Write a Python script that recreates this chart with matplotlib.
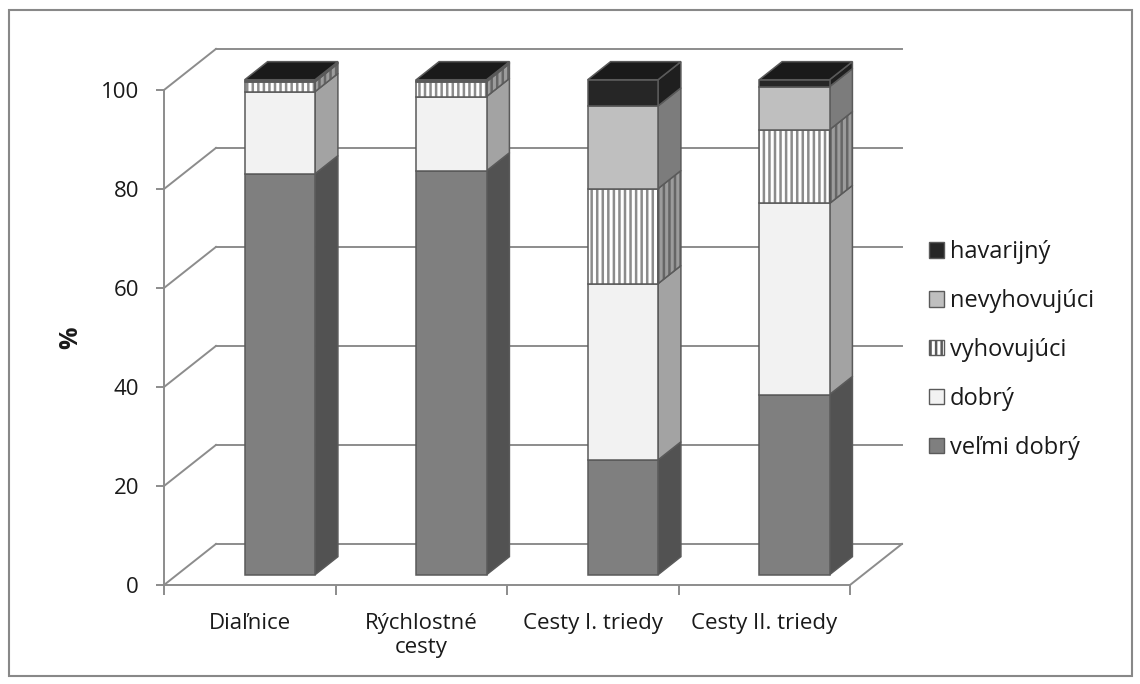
import matplotlib
matplotlib.use('Agg')
import matplotlib.pyplot as plt
from matplotlib.patches import Polygon, Patch, Rectangle

plt.rcParams['font.family'] = ['Open Sans', 'DejaVu Sans']
plt.rcParams['hatch.linewidth'] = 1.8

categories = ['Diaľnice', 'Rýchlostné\ncesty', 'Cesty I. triedy', 'Cesty II. triedy']
series_names = ['veľmi dobrý', 'dobrý', 'vyhovujúci', 'nevyhovujúci', 'havarijný']
velmi_dobry = [81.0, 81.6, 23.2, 36.4]
dobry = [16.6, 15.0, 35.6, 38.6]
vyhovujuci = [2.0, 3.0, 19.2, 14.9]
nevyhovujuci = [0.2, 0.2, 16.7, 8.7]
havarijny = [0.2, 0.2, 5.3, 1.4]
y_ticks = [0, 20, 40, 60, 80, 100]

series = [velmi_dobry, dobry, vyhovujuci, nevyhovujuci, havarijny]

# shading for the front, side and top faces of each segment
front_colors = ['#7f7f7f', '#f2f2f2', '#ffffff', '#bfbfbf', '#262626']
side_colors = ['#525252', '#a3a3a3', '#9c9c9c', '#7c7c7c', '#1f1f1f']
top_colors = ['#6a6a6a', '#d9d9d9', '#d0d0d0', '#a8a8a8', '#1a1a1a']
hatches = [None, None, '|||', None, None]
front_hatch_color = '#8c8c8c'
side_hatch_color = '#666666'
edge_color = '#5a5a5a'
grid_color = '#8c8c8c'
text_color = '#1a1a1a'

# oblique depth of the plot box (data units) and of the bars inside it
DX, DY = 0.303, 8.3
D0, D1 = 0.25, 0.69
BAR_W = 0.41
BAR_SHIFT = 0.10


def add_face(ax, pts, face, hatch=None, hatch_color=None, z=3):
    if hatch:
        ax.add_patch(Polygon(pts, closed=True, facecolor=face, edgecolor=hatch_color,
                             hatch=hatch, lw=0, zorder=z, clip_on=False))
        face = 'none'
    ax.add_patch(Polygon(pts, closed=True, facecolor=face, edgecolor=edge_color,
                         lw=1.1, zorder=z + 0.1, clip_on=False, joinstyle='miter'))


fig = plt.figure(figsize=(11.4, 6.84), dpi=100)
ax = fig.add_axes([164 / 1140, 99 / 684, 686 / 1140, 495 / 684])
ax.set_xlim(0, 4)
ax.set_ylim(0, 100)
ax.patch.set_visible(False)

# back wall, left wall and floor
for v in y_ticks:
    ax.plot([DX, 4 + DX], [v + DY, v + DY], color=grid_color, lw=1.4, zorder=1, clip_on=False)
    ax.plot([0, DX], [v, v + DY], color=grid_color, lw=1.4, zorder=1, clip_on=False)
ax.plot([4, 4 + DX], [0, DY], color=grid_color, lw=1.4, zorder=1, clip_on=False)

# stacked 3-D columns
for i in range(len(categories)):
    xl = i + 0.5 + BAR_SHIFT - BAR_W / 2
    xr = xl + BAR_W
    base = 0.0
    for s, vals in enumerate(series):
        top = base + vals[i]
        front = [(xl + D0 * DX, base + D0 * DY), (xr + D0 * DX, base + D0 * DY),
                 (xr + D0 * DX, top + D0 * DY), (xl + D0 * DX, top + D0 * DY)]
        side = [(xr + D0 * DX, base + D0 * DY), (xr + D1 * DX, base + D1 * DY),
                (xr + D1 * DX, top + D1 * DY), (xr + D0 * DX, top + D0 * DY)]
        add_face(ax, side, side_colors[s], hatches[s], side_hatch_color, z=3 + s * 0.2)
        add_face(ax, front, front_colors[s], hatches[s], front_hatch_color, z=3 + s * 0.2)
        base = top
    s = len(series) - 1
    lid = [(xl + D0 * DX, base + D0 * DY), (xr + D0 * DX, base + D0 * DY),
           (xr + D1 * DX, base + D1 * DY), (xl + D1 * DX, base + D1 * DY)]
    add_face(ax, lid, top_colors[s], z=5)

for side in ['top', 'right']:
    ax.spines[side].set_visible(False)
for side in ['left', 'bottom']:
    ax.spines[side].set_color(grid_color)
    ax.spines[side].set_linewidth(1.4)

ax.set_yticks(y_ticks)
ax.tick_params(axis='y', length=6, width=1.4, color=grid_color, labelsize=16,
               labelcolor=text_color, pad=12)
ax.set_xticks([i + 0.5 for i in range(len(categories))])
ax.set_xticklabels(categories, linespacing=1.2)
ax.set_xticks(range(len(categories) + 1), minor=True)
ax.tick_params(axis='x', which='major', length=0, labelsize=16, labelcolor=text_color, pad=20)
ax.tick_params(axis='x', which='minor', length=7, width=1.4, color=grid_color)

ax.set_ylabel('%', fontsize=18, fontweight='bold', color=text_color)
ax.yaxis.set_label_coords(-0.117, 0.5)

handles = []
for s in range(len(series)):
    handles.append(Patch(facecolor=front_colors[s], edgecolor=edge_color,
                         hatch=hatches[s], lw=1.0, label=series_names[s]))
fig.legend(handles=handles[::-1], loc='center left', bbox_to_anchor=(929 / 1140, 1 - 350 / 684),
           frameon=False, fontsize=17, handlelength=0.62, handleheight=0.62,
           handletextpad=0.25, labelspacing=1.05, labelcolor=text_color,
           borderaxespad=0, borderpad=0)

fig.add_artist(Rectangle((9 / 1140, 8 / 684), 1123 / 1140, 666 / 684, transform=fig.transFigure,
                         fill=False, edgecolor='#888888', lw=1.5))

fig.savefig('out.png', dpi=100, facecolor='white')
